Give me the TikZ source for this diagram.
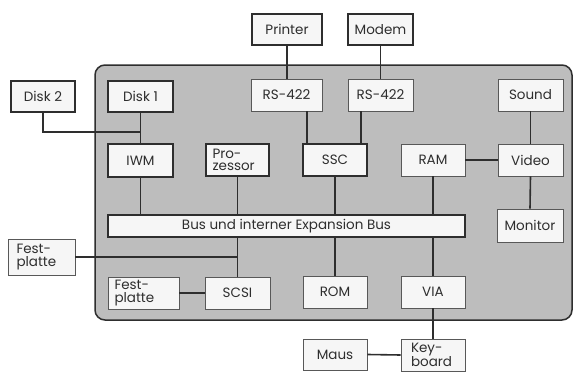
\documentclass[tikz,border=0pt]{standalone}
\usepackage{fontspec}
\setmainfont{Poppins}
\definecolor{boxgray}{HTML}{BDBDBD}
\definecolor{ink}{HTML}{2E2E2E}
\definecolor{boxfill}{HTML}{F6F6F6}
\begin{document}
\begin{tikzpicture}[x=1pt,y=-1pt,
  every node/.style={text=ink, font=\fontsize{13.5}{12.5}\selectfont},
  thickbox/.style={draw=ink, line width=1.8pt, fill=boxfill, inner sep=1pt, align=center},
  thinbox/.style={draw=ink!80, line width=0.9pt, fill=boxfill, inner sep=1pt, align=center},
  conn/.style={draw=ink, line width=1.6pt}]
\useasboundingbox (0,0) rectangle (574,372);
\fill[white] (0,0) rectangle (574,372);
\draw[fill=boxgray, draw=ink, line width=1.5pt, rounded corners=10pt] (95,65) rectangle (572,320);

% nodes
\node[thickbox, minimum width=70pt, minimum height=31pt] (Printer) at (287,29.5) {Printer};
\node[thickbox, minimum width=65pt, minimum height=31pt] (Modem) at (380.5,29.5) {Modem};
\node[thickbox, minimum width=64pt, minimum height=31pt] (Disk2) at (43,96.5) {Disk 2};
\node[thickbox, minimum width=65pt, minimum height=31pt] (Disk1) at (140.5,96.5) {Disk 1};
\node[thinbox, minimum width=71pt, minimum height=32pt] (RS1) at (286.5,95) {RS-422};
\node[thinbox, minimum width=65pt, minimum height=32pt] (RS2) at (380.5,95) {RS-422};
\node[thinbox, minimum width=65pt, minimum height=32pt] (Sound) at (530.5,95) {Sound};
\node[thickbox, minimum width=65pt, minimum height=33pt] (IWM) at (140.5,160.5) {IWM};
\node[thickbox, minimum width=63pt, minimum height=32pt, text width=50pt, align=left] (Proz) at (237.5,160) {Pro-\\zessor};
\node[thickbox, minimum width=64pt, minimum height=32pt] (SSC) at (335,160) {SSC};
\node[thinbox, minimum width=64pt, minimum height=32pt] (RAM) at (433,160) {RAM};
\node[thinbox, minimum width=65pt, minimum height=32pt] (Video) at (530.5,160) {Video};
\node[thickbox, minimum width=357pt, minimum height=22pt] (Bus) at (286.5,226) {Bus und interner Expansion Bus};
\node[thinbox, minimum width=66pt, minimum height=33pt] (Monitor) at (530,225.5) {Monitor};
\node[thinbox, minimum width=67pt, minimum height=36pt, text width=50pt, align=left] (FestOut) at (41.5,257) {Fest-\\platte};
\node[thinbox, minimum width=71pt, minimum height=32pt, text width=58pt, align=left] (FestIn) at (143.5,293) {Fest-\\platte};
\node[thinbox, minimum width=65pt, minimum height=32pt] (SCSI) at (237.5,293) {SCSI};
\node[thinbox, minimum width=64pt, minimum height=32pt] (ROM) at (335,292) {ROM};
\node[thinbox, minimum width=64pt, minimum height=32pt] (VIA) at (433,292) {VIA};
\node[thinbox, minimum width=64pt, minimum height=31pt] (Maus) at (335,354.5) {Maus};
\node[thinbox, minimum width=64pt, minimum height=32pt, text width=44pt, align=left] (Key) at (433,355) {Key-\\board};
\coordinate (j1) at (140.5,132);

% connectors
\draw[conn] (Printer.south) -- (Printer.south |- RS1.north);
\draw[conn] (Modem.south) -- (Modem.south |- RS2.north);
\draw[conn] ([xshift=5pt]SSC.north west) -- ([xshift=5pt]SSC.north west |- RS1.south);
\draw[conn] ([xshift=-7pt]SSC.north east) -- ([xshift=-7pt]SSC.north east |- RS2.south);
\draw[conn] (Disk1.south) -- (IWM.north);
\draw[conn] (Disk2.south) |- (j1);
\draw[conn] (IWM.south) -- (IWM.south |- Bus.north);
\draw[conn] (Proz.south) -- (Proz.south |- Bus.north);
\draw[conn] (SSC.south) -- (SSC.south |- Bus.north);
\draw[conn] (RAM.south) -- (RAM.south |- Bus.north);
\draw[conn] (RAM.east) -- (Video.west);
\draw[conn] (Sound.south) -- (Video.north);
\draw[conn] (Video.south) -- (Monitor.north);
\draw[conn] (SCSI.north) -- (SCSI.north |- Bus.south);
\draw[conn] (FestOut.east) -- (FestOut.east -| SCSI.north);
\draw[conn] (FestIn.east) -- (SCSI.west);
\draw[conn] (ROM.north) -- (ROM.north |- Bus.south);
\draw[conn] (VIA.north) -- (VIA.north |- Bus.south);
\draw[conn] (VIA.south) -- (Key.north);
\draw[conn] (Maus.east) -- (Key.west);
\end{tikzpicture}
\end{document}
